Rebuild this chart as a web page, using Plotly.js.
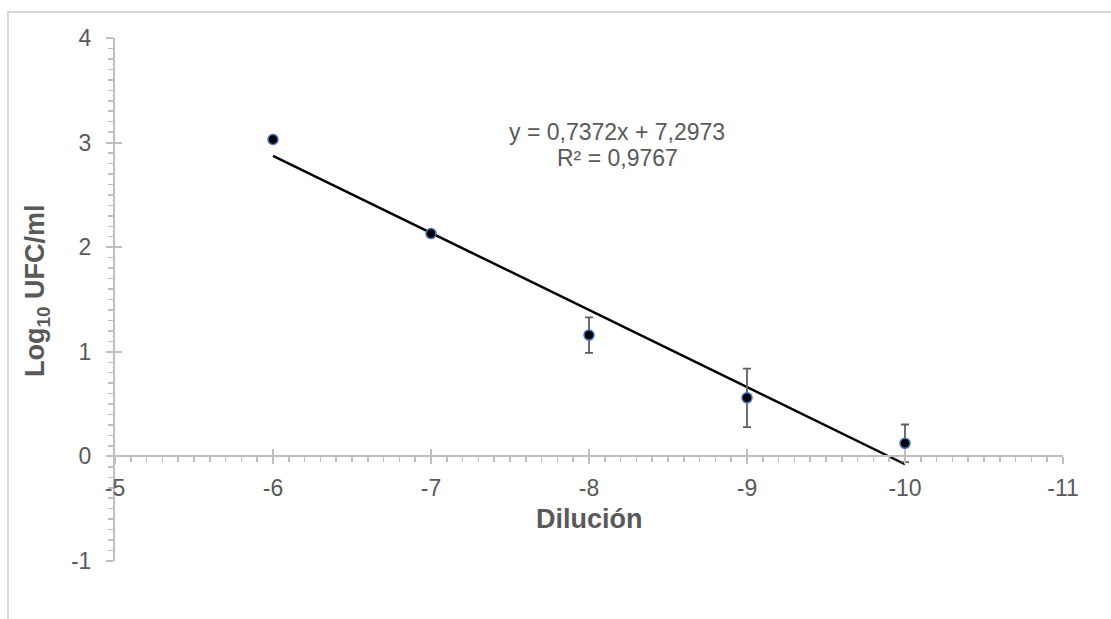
<!DOCTYPE html>
<html>
<head>
<meta charset="utf-8">
<script src="https://cdn.plot.ly/plotly-3.0.1.min.js"></script>
<style>
  html, body { margin: 0; padding: 0; background: #fff; }
  #wrap { position: relative; width: 1111px; height: 619px; overflow: hidden; }
  #chart { position: absolute; left: 0; top: 0; width: 1111px; height: 619px; }
  #frame { position: absolute; left: 7px; top: 11px; width: 1200px; height: 700px;
           border-left: 2px solid #d9d9d9; border-top: 2px solid #d9d9d9; pointer-events: none; }
</style>
</head>
<body>
<div id="wrap">
  <div id="chart"></div>
  <div id="frame"></div>
</div>
<script>
// Data
const dilution = [-6, -7, -8, -9, -10];
const logUFC   = [3.03, 2.13, 1.16, 0.56, 0.125];
const errUFC   = [0, 0, 0.17, 0.28, 0.18];
const trendX   = [-6, -10];
const trendY   = [2.874, -0.075];
const xTickVals = [-5, -6, -7, -8, -9, -10, -11];
const xTickText = ["-5", "-6", "-7", "-8", "-9", "-10", "-11"];
const yTickVals = [-1, 0, 1, 2, 3, 4];
const yTickText = ["-1", "0", "1", "2", "3", "4"];
const equationLine1 = "y = 0,7372x + 7,2973";
const equationLine2 = "R² = 0,9767";
const xTitle = "Dilución";
const yTitle = "Log<sub>10</sub> UFC/ml";

const FONT = "Liberation Sans, Arial, sans-serif";
const AXC = "#bfbfbf";
const TXC = "#595959";

const traces = [
  {
    x: trendX, y: trendY, mode: "lines", type: "scatter",
    line: { color: "#000000", width: 2.5 }, hoverinfo: "skip", showlegend: false
  },
  {
    x: dilution, y: logUFC, mode: "markers", type: "scatter",
    marker: { size: 10, color: "#000000", line: { color: "#4472c4", width: 1.5 } },
    error_y: { type: "data", array: errUFC, visible: true, color: "#5f5f5f", thickness: 1.8, width: 4 },
    showlegend: false
  },
  { x: [-5], y: [0], xaxis: "x2", yaxis: "y", mode: "markers", marker: { opacity: 0 }, hoverinfo: "skip", showlegend: false },
  { x: [-5], y: [0], xaxis: "x", yaxis: "y2", mode: "markers", marker: { opacity: 0 }, hoverinfo: "skip", showlegend: false }
];

const layout = {
  width: 1111, height: 619,
  margin: { l: 115, r: 48, t: 38, b: 58 },
  paper_bgcolor: "#ffffff", plot_bgcolor: "#ffffff",
  font: { family: FONT, color: TXC, size: 23 },
  showlegend: false,
  xaxis: {
    range: [-5, -11], autorange: false,
    anchor: "free", position: 0.2,
    showgrid: false, zeroline: false,
    showline: true, linecolor: AXC, linewidth: 2,
    ticks: "outside", ticklen: 7, tickwidth: 2, tickcolor: AXC,
    tickmode: "array", tickvals: xTickVals, ticktext: xTickText,
    minor: { dtick: 0.1, tick0: -5, ticks: "outside", ticklen: 5, tickwidth: 1.5, tickcolor: AXC },
    tickfont: { family: FONT, size: 23, color: TXC },
    ticklabelstandoff: 4
  },
  xaxis2: {
    overlaying: "x", range: [-5, -11], autorange: false,
    anchor: "free", position: 0.2,
    showgrid: false, zeroline: false, showline: false,
    ticks: "inside", ticklen: 7, tickwidth: 2, tickcolor: AXC,
    tickmode: "array", tickvals: xTickVals, showticklabels: false
  },
  yaxis: {
    range: [-1, 4], autorange: false,
    showgrid: false, zeroline: false,
    showline: true, linecolor: AXC, linewidth: 2,
    ticks: "outside", ticklen: 7, tickwidth: 2, tickcolor: AXC,
    tickmode: "array", tickvals: yTickVals, ticktext: yTickText,
    minor: { dtick: 0.1, tick0: 0, ticks: "outside", ticklen: 5, tickwidth: 1.5, tickcolor: AXC },
    tickfont: { family: FONT, size: 23, color: TXC },
    ticklabelstandoff: 10
  },
  yaxis2: {
    overlaying: "y", range: [-1, 4], autorange: false,
    anchor: "x", side: "left",
    showgrid: false, zeroline: false, showline: false,
    ticks: "inside", ticklen: 7, tickwidth: 2, tickcolor: AXC,
    tickmode: "array", tickvals: yTickVals, showticklabels: false
  },
  annotations: [
    {
      text: equationLine1, x: -8.18, y: 3.10, xref: "x", yref: "y",
      showarrow: false, xanchor: "center", yanchor: "middle",
      font: { family: FONT, size: 23, color: TXC }
    },
    {
      text: equationLine2, x: -8.18, y: 2.85, xref: "x", yref: "y",
      showarrow: false, xanchor: "center", yanchor: "middle",
      font: { family: FONT, size: 23, color: TXC }
    },
    {
      text: "<b>" + xTitle + "</b>", x: 0.5, y: -0.60, xref: "paper", yref: "y",
      showarrow: false, xanchor: "center", yanchor: "middle",
      font: { family: FONT, size: 27, color: TXC }
    },
    {
      text: "<b>" + yTitle + "</b>", x: -0.0823, y: 0.518, xref: "paper", yref: "paper",
      showarrow: false, xanchor: "center", yanchor: "middle", textangle: -90,
      font: { family: FONT, size: 27, color: TXC }
    }
  ]
};

Plotly.newPlot("chart", traces, layout, { displayModeBar: false, staticPlot: true });
</script>
</body>
</html>
